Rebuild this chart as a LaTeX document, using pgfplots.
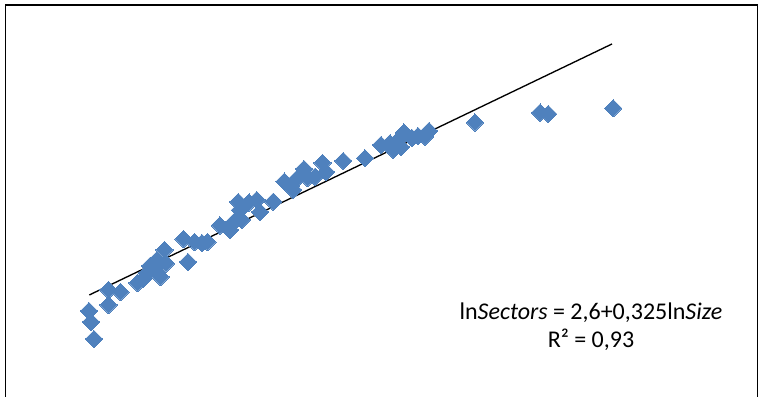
\documentclass[border=0pt]{standalone}
\usepackage{pgfplots}
\pgfplotsset{compat=1.18}
\usepackage{fontspec}
\setmainfont{Carlito}
\definecolor{xlblue}{HTML}{4F81BD}
\begin{document}
\begin{tikzpicture}
\begin{axis}[
  at={(0,0)}, anchor=south west,
  scale only axis, width=569.25pt, height=297pt,
  xmin=-0.788, xmax=11.862, ymin=1.688, ymax=6.155,
  hide axis, clip=false,
]
\addplot[only marks, mark=square*, mark size=4.6pt,
  mark options={rotate=45, fill=xlblue, draw=xlblue, line width=0pt}]
coordinates {
(0.695,2.647) (0.728,2.523) (0.778,2.331) (1.020,2.884) (1.020,2.715)
(1.220,2.861) (1.503,2.963) (1.595,3.008) (1.662,3.076) (1.778,3.132)
(1.887,3.031) (1.953,3.335) (1.978,3.183) (1.828,3.222) (1.712,3.155)
(2.345,3.200) (2.270,3.459) (2.453,3.425) (2.578,3.414) (2.670,3.425)
(2.878,3.612) (3.045,3.561) (3.112,3.651) (3.183,3.877) (3.212,3.786)
(3.240,3.674) (3.362,3.871) (3.490,3.899) (3.545,3.764) (3.767,3.880)
(3.953,4.106) (4.062,4.057) (4.100,4.012) (4.170,4.144) (4.278,4.249)
(4.337,4.147) (4.462,4.162) (4.587,4.317) (4.645,4.215) (4.933,4.339)
(5.295,4.370) (5.562,4.520) (5.712,4.539) (5.767,4.463) (5.878,4.595)
(5.945,4.661) (6.078,4.599) (6.178,4.621) (6.295,4.613) (6.362,4.678)
(5.895,4.497) (7.128,4.773) (8.212,4.884) (8.350,4.869) (9.433,4.934)
};
\addplot[black, line width=1pt] coordinates {(0.7,2.8275) (9.412,5.659)};
\node[align=center, font=\fontsize{18pt}{21pt}\selectfont] at (axis cs:9.062,2.467)
  {ln\textit{Sectors} = 2,6+0,325ln\textit{Size}\\R² = 0,93};
\end{axis}
\draw[line width=1.2pt] (4.1pt,-20pt) rectangle (568.1pt,293.25pt);
\pgfresetboundingbox
\useasboundingbox (0,0) rectangle (569.25pt,297pt);
\end{tikzpicture}
\end{document}
